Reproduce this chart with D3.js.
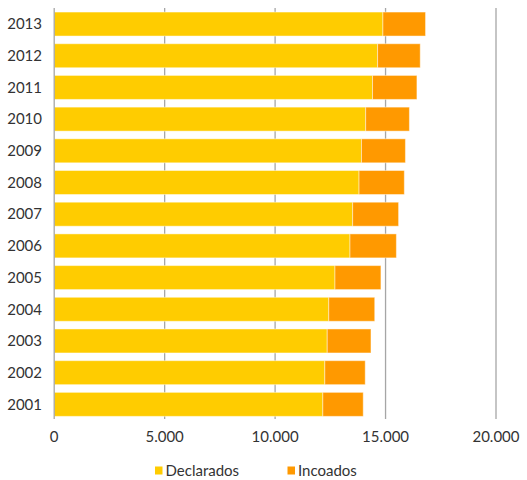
<!DOCTYPE html>
<html>
<head>
<meta charset="utf-8">
<script src="https://cdn.jsdelivr.net/npm/d3@7"></script>
<style>
  html, body { margin: 0; padding: 0; background: #fff; }
  svg { display: block; font-family: Lato, "Open Sans", sans-serif; }
</style>
</head>
<body>
<div id="chart"></div>
<script>
const years = ["2013","2012","2011","2010","2009","2008","2007","2006","2005","2004","2003","2002","2001"];
const declarados = [14880,14640,14410,14100,13910,13800,13510,13390,12710,12430,12360,12250,12160];
const incoados   = [1930,1930,2010,1980,1990,2050,2080,2100,2080,2080,1980,1830,1830];
const seriesNames = ["Declarados","Incoados"];
const seriesColors = ["#FFCC00","#FF9900"];
const xTicks = [0,5000,10000,15000,20000];
const xTickLabels = ["0","5.000","10.000","15.000","20.000"];

const W = 527, H = 480;
const svg = d3.select("#chart").append("svg").attr("width", W).attr("height", H);

const x = d3.scaleLinear().domain([0, 20000]).range([54.2, 496]);
const y = d3.scaleBand().domain(years).range([8.2, 420.2]).paddingInner(0.243).paddingOuter(0.1215);

// gridlines
svg.append("g").selectAll("line").data(xTicks.slice(1)).join("line")
  .attr("x1", d => x(d)).attr("x2", d => x(d))
  .attr("y1", 8).attr("y2", 419)
  .attr("stroke", "#a6a6a6").attr("stroke-width", 1.3);

const rows = years.map((yr, i) => ({ yr, d: declarados[i], n: incoados[i] }));
const stack = d3.stack().keys(["d","n"])(rows);

svg.append("g").selectAll("g").data(stack).join("g")
  .attr("fill", (s, i) => seriesColors[i])
  .selectAll("rect").data(s => s).join("rect")
  .attr("x", d => x(d[0]))
  .attr("width", d => x(d[1]) - x(d[0]))
  .attr("y", d => y(d.data.yr))
  .attr("height", y.bandwidth())
  .attr("stroke", "rgba(255,255,255,0.45)")
  .attr("stroke-width", 1);

// axis line at 0
svg.append("line")
  .attr("x1", x(0)).attr("x2", x(0)).attr("y1", 8).attr("y2", 419)
  .attr("stroke", "#a6a6a6").attr("stroke-width", 1.3);

// y labels
svg.append("g").selectAll("text").data(years).join("text")
  .attr("x", 42).attr("y", d => y(d) + y.bandwidth() / 2)
  .attr("dy", "0.35em").attr("text-anchor", "end")
  .attr("font-size", 15).attr("fill", "#333")
  .text(d => d);

// x labels
svg.append("g").selectAll("text").data(xTicks).join("text")
  .attr("x", d => x(d)).attr("y", 437)
  .attr("dy", "0.35em").attr("text-anchor", "middle")
  .attr("font-size", 15).attr("fill", "#333")
  .text((d, i) => xTickLabels[i]);

// legend
const legX = [155, 287.5];
const leg = svg.append("g").selectAll("g").data(seriesNames).join("g")
  .attr("transform", (d, i) => `translate(${legX[i]},0)`);
leg.append("rect").attr("x", 0).attr("y", 466.5).attr("width", 7.5).attr("height", 8)
  .attr("fill", (d, i) => seriesColors[i]);
leg.append("text").attr("x", 10.5).attr("y", 470.5).attr("dy", "0.35em")
  .attr("font-size", 15).attr("fill", "#333").text(d => d);
</script>
</body>
</html>
